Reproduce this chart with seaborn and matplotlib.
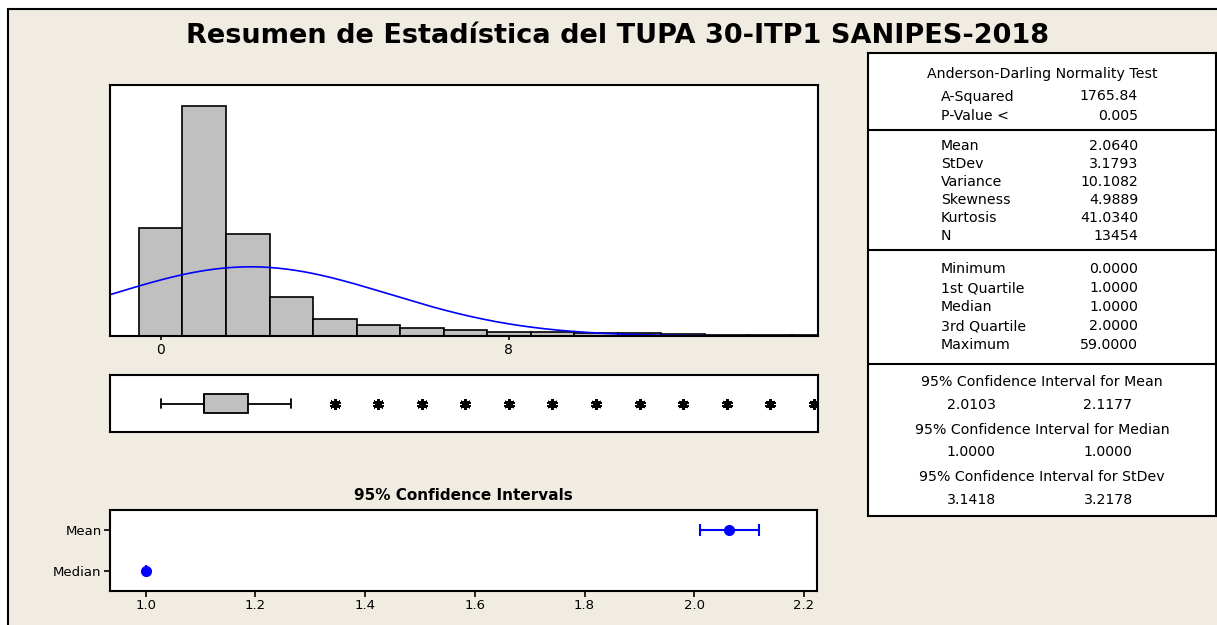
import numpy as np
import pandas as pd
import seaborn as sns
import matplotlib
matplotlib.use('Agg')
from matplotlib import pyplot as plt
from matplotlib.patches import Rectangle

# histogram bins (value -> count)
bin_values = [0, 1, 2, 3, 4, 5, 6, 7, 8, 9, 10, 11, 12, 13, 14, 15,
              16, 17, 18, 19, 20, 21, 22, 23, 24, 25, 26, 27, 28, 29, 30,
              31, 32, 33, 34, 35, 36, 37, 38, 39, 40, 41, 42, 43, 44, 45,
              46, 47, 48, 49, 50, 52, 53, 55, 57, 59]
bin_counts = [2643, 5619, 2489, 952, 422, 268, 188, 154, 105, 105, 81, 73, 40, 32, 26, 22,
              24, 20, 18, 16, 16, 10, 11, 8, 13, 11, 6, 6, 5, 4, 10,
              4, 3, 4, 3, 5, 3, 2, 2, 2, 6, 2, 2, 1, 2, 3,
              1, 1, 2, 1, 3, 1, 1, 1, 1, 1]

mean_val = 2.0640
sd_val = 3.1793
n_val = 13454

hist_ticks = [0, 8]

ci_labels = ['Mean', 'Median']
ci_est = [2.0640, 1.0000]
ci_low = [2.0103, 1.0000]
ci_high = [2.1177, 1.0000]
ci_ticks = [1.0, 1.2, 1.4, 1.6, 1.8, 2.0, 2.2]

title = 'Resumen de Estadística del TUPA 30-ITP1 SANIPES-2018'
ad_title = 'Anderson-Darling Normality Test'
ad_rows = [('A-Squared', '1765.84'), ('P-Value <', '0.005')]
desc_rows = [('Mean', '2.0640'), ('StDev', '3.1793'), ('Variance', '10.1082'),
             ('Skewness', '4.9889'), ('Kurtosis', '41.0340'), ('N', '13454')]
quant_rows = [('Minimum', '0.0000'), ('1st Quartile', '1.0000'), ('Median', '1.0000'),
              ('3rd Quartile', '2.0000'), ('Maximum', '59.0000')]
ci_rows = [('95% Confidence Interval for Mean', '2.0103', '2.1177'),
           ('95% Confidence Interval for Median', '1.0000', '1.0000'),
           ('95% Confidence Interval for StDev', '3.1418', '3.2178')]

sns.set_style('white')
plt.rcParams['font.family'] = ['DejaVu Sans']
plt.rcParams['text.color'] = 'black'
plt.rcParams['xtick.color'] = 'black'
plt.rcParams['ytick.color'] = 'black'
plt.rcParams['axes.labelcolor'] = 'black'

BG = '#F0ECE2'
GRAY = '#C0C0C0'
BLUE = '#0000FF'
W, H = 1217, 625

fig = plt.figure(figsize=(W / 100, H / 100), dpi=100, facecolor='white')
fig.patches.append(Rectangle((8 / W, -0.05), 1.1, 1 - 9 / H + 0.05, transform=fig.transFigure,
                             facecolor=BG, edgecolor='black', linewidth=1.5, zorder=-5))


def rect(l, t, r, b):
    return [l / W, 1 - b / H, (r - l) / W, (b - t) / H]


ax_h = fig.add_axes(rect(110, 85, 818, 336))
ax_b = fig.add_axes(rect(110, 375, 818, 432))
ax_c = fig.add_axes(rect(110, 510, 817, 591))
ax_t = fig.add_axes(rect(868, 53, 1216, 516))

xlim = (-1.164, 15.1)

# histogram + normal fit
df = pd.DataFrame({'value': bin_values, 'count': bin_counts})
sns.histplot(data=df, x='value', weights='count', discrete=True, ax=ax_h, color=GRAY,
             edgecolor='black', linewidth=1.2, alpha=1)
xs = np.linspace(xlim[0], xlim[1], 400)
ys = n_val * np.exp(-0.5 * ((xs - mean_val) / sd_val) ** 2) / (sd_val * np.sqrt(2 * np.pi))
ax_h.plot(xs, ys, color=BLUE, linewidth=1.2)
ax_h.set_xlim(xlim)
ax_h.set_ylim(0, 6124)
ax_h.set_xticks(hist_ticks)
ax_h.set_yticks([])
ax_h.set_xlabel('')
ax_h.set_ylabel('')
ax_h.tick_params(axis='x', direction='out', length=3, width=1.2, labelsize=10, pad=2,
                 bottom=True)

# boxplot
data = pd.Series(np.repeat(bin_values, bin_counts))
sns.boxplot(x=data, ax=ax_b, width=0.35, color=GRAY, saturation=1, linecolor='black',
            linewidth=1.3, whis=1.5,
            flierprops=dict(marker=(6, 2, 0), markersize=7, markeredgewidth=1.8,
                            markeredgecolor='black'))
ax_b.set_xlim(xlim)
ax_b.set_ylim(0.5, -0.5)
ax_b.set_xticks([])
ax_b.set_yticks([])
ax_b.set_xlabel('')

# confidence intervals
ci_pos = [1, 0]
ax_c.errorbar(ci_est, ci_pos,
              xerr=[np.subtract(ci_est, ci_low), np.subtract(ci_high, ci_est)],
              fmt='o', color=BLUE, markersize=7, elinewidth=1.5, capsize=4, capthick=1.5)
ax_c.set_xlim(0.935, 2.2237)
ax_c.set_ylim(-0.5, 1.5)
ax_c.set_xticks(ci_ticks, [f'{t:.1f}' for t in ci_ticks])
ax_c.set_yticks(ci_pos, ci_labels)
ax_c.tick_params(direction='out', length=4, width=1.2, labelsize=9.5, pad=2,
                 bottom=True, left=True)
fig.text(463 / W, 1 - 496 / H, '95% Confidence Intervals', ha='center', va='center',
         fontsize=11, fontweight='bold')

for ax in (ax_h, ax_b, ax_c, ax_t):
    ax.set_facecolor('white')
    for s in ax.spines.values():
        s.set_visible(True)
        s.set_color('black')
        s.set_linewidth(1.5)

# summary table
ax_t.set_xlim(868, 1216)
ax_t.set_ylim(516, 53)
ax_t.set_xticks([])
ax_t.set_yticks([])
fs = 10.2
lx, vx = 941, 1138
ax_t.text(1042, 74, ad_title, ha='center', va='center', fontsize=fs)
for (lab, val), y in zip(ad_rows, [96.5, 115.5]):
    ax_t.text(lx, y, lab, ha='left', va='center', fontsize=fs)
    ax_t.text(vx, y, val, ha='right', va='center', fontsize=fs)
ax_t.axhline(130, color='black', linewidth=1.5)
for i, (lab, val) in enumerate(desc_rows):
    y = 146.5 + i * 18
    ax_t.text(lx, y, lab, ha='left', va='center', fontsize=fs)
    ax_t.text(vx, y, val, ha='right', va='center', fontsize=fs)
ax_t.axhline(250, color='black', linewidth=1.5)
for i, (lab, val) in enumerate(quant_rows):
    y = 269 + i * 19
    ax_t.text(lx, y, lab, ha='left', va='center', fontsize=fs)
    ax_t.text(vx, y, val, ha='right', va='center', fontsize=fs)
ax_t.axhline(364, color='black', linewidth=1.5)
for i, (lab, lo, hi) in enumerate(ci_rows):
    y = 382 + i * 47.5
    ax_t.text(1042, y, lab, ha='center', va='center', fontsize=fs)
    ax_t.text(971, y + 23, lo, ha='center', va='center', fontsize=fs)
    ax_t.text(1108, y + 23, hi, ha='center', va='center', fontsize=fs)

fig.text(618 / W, 1 - 36 / H, title, ha='center', va='center', fontsize=19.5,
         fontweight='bold')

fig.savefig('out.png', dpi=100, facecolor=fig.get_facecolor())
